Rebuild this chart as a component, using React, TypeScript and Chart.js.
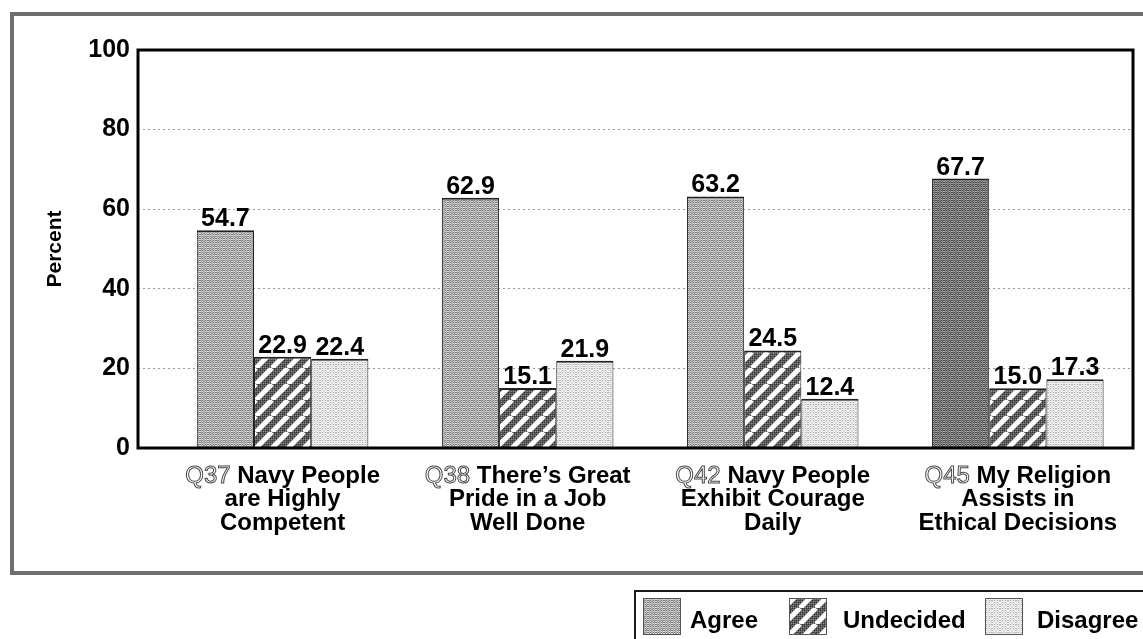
import React, { useEffect, useRef } from 'react';
import { Chart, registerables } from 'chart.js';

Chart.register(...registerables);

// ---- data ----
const questionIds = ['Q37', 'Q38', 'Q42', 'Q45'];
const questionLines = [
  ['Navy People', 'are Highly', 'Competent'],
  ['There\u2019s Great', 'Pride in a Job', 'Well Done'],
  ['Navy People', 'Exhibit Courage', 'Daily'],
  ['My Religion', 'Assists in', 'Ethical Decisions'],
];
const seriesNames = ['Agree', 'Undecided', 'Disagree'];
const agree = [54.7, 62.9, 63.2, 67.7];
const undecided = [22.9, 15.1, 24.5, 15.0];
const disagree = [22.4, 21.9, 12.4, 17.3];
const yTicks = [0, 20, 40, 60, 80, 100];

const FONT = '"Liberation Sans", Arial, Helvetica, sans-serif';

const BAYER = [
  [0, 8, 2, 10],
  [12, 4, 14, 6],
  [3, 11, 1, 9],
  [15, 7, 13, 5],
];

function speckle(ctx: CanvasRenderingContext2D, base: string, dark: string, light: string, lo: number, hi: number) {
  const c = document.createElement('canvas');
  c.width = 8;
  c.height = 8;
  const g = c.getContext('2d')!;
  g.fillStyle = base;
  g.fillRect(0, 0, 8, 8);
  for (let y = 0; y < 8; y++) {
    for (let x = 0; x < 8; x++) {
      const b = BAYER[y % 4][(x + (y >> 2) * 2 + (x >> 2)) % 4];
      if (b < lo) {
        g.fillStyle = dark;
        g.fillRect(x, y, 1, 1);
      } else if (b > hi) {
        g.fillStyle = light;
        g.fillRect(x, y, 1, 1);
      }
    }
  }
  return ctx.createPattern(c, 'repeat')!;
}

function hatch(ctx: CanvasRenderingContext2D) {
  const s = 16;
  const c = document.createElement('canvas');
  c.width = s;
  c.height = s;
  const g = c.getContext('2d')!;
  g.fillStyle = '#5c5c5c';
  g.fillRect(0, 0, s, s);
  for (let y = 0; y < s; y++) {
    for (let x = 0; x < s; x++) {
      const b = BAYER[y % 4][(x + y) % 4];
      if (b < 4) {
        g.fillStyle = '#333';
        g.fillRect(x, y, 1, 1);
      } else if (b > 12) {
        g.fillStyle = '#8c8c8c';
        g.fillRect(x, y, 1, 1);
      }
    }
  }
  g.strokeStyle = '#ffffff';
  g.lineWidth = 5;
  for (const k of [-s, 0, s]) {
    g.beginPath();
    g.moveTo(k, s);
    g.lineTo(k + s, 0);
    g.stroke();
  }
  return ctx.createPattern(c, 'repeat')!;
}

export default function App() {
  const ref = useRef<HTMLCanvasElement>(null);

  useEffect(() => {
    const canvas = ref.current!;
    const ctx = canvas.getContext('2d')!;
    const pAgree = speckle(ctx, '#b2b2b2', '#7e7e7e', '#dadada', 5, 11);
    const pAgreeDark = speckle(ctx, '#7a7a7a', '#4c4c4c', '#a4a4a4', 5, 11);
    const pUndecided = hatch(ctx);
    const pDisagree = speckle(ctx, '#e4e4e4', '#b4b4b4', '#f6f6f6', 3, 12);
    const agreeColors = agree.map((_, i) => (i === agree.length - 1 ? pAgreeDark : pAgree));
    const legendFills = [pAgree, pUndecided, pDisagree];

    const seriesValues = [agree, undecided, disagree];

    const decor = {
      id: 'decor',
      afterDatasetsDraw(chart: any) {
        const c = chart.ctx as CanvasRenderingContext2D;
        const { left, right, top, bottom } = chart.chartArea;
        const xs = chart.scales.x;
        c.save();

        // plot frame
        c.strokeStyle = '#000';
        c.lineWidth = 3;
        c.strokeRect(left, top, right - left, bottom - top);

        // value labels
        c.fillStyle = '#000';
        c.font = `bold 25px ${FONT}`;
        c.textAlign = 'center';
        c.textBaseline = 'alphabetic';
        chart.data.datasets.forEach((ds: any, di: number) => {
          const meta = chart.getDatasetMeta(di);
          meta.data.forEach((el: any, i: number) => {
            const v = seriesValues[di][i];
            c.fillText(v.toFixed(1), el.x, el.y - 4);
          });
        });

        // category labels
        questionIds.forEach((qid, i) => {
          const cx = xs.getPixelForValue(i);
          const lines = questionLines[i];
          const y0 = bottom + 28;
          const lh = 23.5;
          c.font = `24px ${FONT}`;
          const idTxt = qid + ' ';
          const wId = c.measureText(idTxt).width;
          c.font = `bold 24px ${FONT}`;
          const wRest = c.measureText(lines[0]).width;
          const x0 = cx - (wId + wRest) / 2;
          c.textAlign = 'left';
          c.textBaseline = 'middle';
          c.font = `24px ${FONT}`;
          c.fillStyle = '#ffffff';
          c.fillText(qid, x0, y0);
          c.strokeStyle = '#4a4a4a';
          c.lineWidth = 1;
          c.strokeText(qid, x0, y0);
          c.font = `bold 24px ${FONT}`;
          c.fillStyle = '#000';
          c.fillText(lines[0], x0 + wId, y0);
          c.textAlign = 'center';
          for (let k = 1; k < lines.length; k++) {
            c.fillText(lines[k], cx, y0 + lh * k);
          }
        });

        // outer frame
        c.strokeStyle = '#6e6e6e';
        c.lineWidth = 4;
        c.strokeRect(12, 14, 1160, 559);

        // legend box
        c.strokeStyle = '#1a1a1a';
        c.lineWidth = 2;
        c.beginPath();
        c.moveTo(635, 660);
        c.lineTo(635, 591);
        c.lineTo(1160, 591);
        c.stroke();

        const sw = [643, 789, 985];
        const tx = [690, 843, 1037];
        seriesNames.forEach((name, i) => {
          c.fillStyle = legendFills[i];
          c.fillRect(sw[i], 598, 38, 37);
          c.strokeStyle = '#555';
          c.lineWidth = 1;
          c.strokeRect(sw[i] + 0.5, 598.5, 37, 36);
          c.fillStyle = '#000';
          c.font = `bold 24px ${FONT}`;
          c.textAlign = 'left';
          c.textBaseline = 'middle';
          c.fillText(name, tx[i], 621);
        });

        c.restore();
      },
    };

    const border = { top: 2, left: 1, right: 1, bottom: 0 };

    const chart = new Chart(canvas, {
      type: 'bar',
      data: {
        datasets: [
          {
            label: seriesNames[0],
            data: agree.map((v, i) => ({ x: i, y: v })),
            backgroundColor: agreeColors as any,
            borderColor: '#222',
            borderWidth: border,
          },
          {
            label: seriesNames[1],
            data: undecided.map((v, i) => ({ x: i, y: v })),
            backgroundColor: pUndecided as any,
            borderColor: '#222',
            borderWidth: border,
          },
          {
            label: seriesNames[2],
            data: disagree.map((v, i) => ({ x: i, y: v })),
            backgroundColor: pDisagree as any,
            borderColor: '#222',
            borderWidth: border,
          },
        ],
      },
      options: {
        responsive: false,
        animation: false,
        events: [],
        layout: { padding: { top: 50, right: 10, left: 0, bottom: 0 } },
        datasets: { bar: { categoryPercentage: 0.7, barPercentage: 1 } } as any,
        scales: {
          x: {
            type: 'linear',
            min: -0.59,
            max: 3.47,
            offset: false,
            grid: { display: false },
            border: { display: false },
            ticks: { display: false, stepSize: 1, includeBounds: false },
            afterFit: (s: any) => {
              s.height = 191;
            },
          },
          y: {
            min: yTicks[0],
            max: yTicks[yTicks.length - 1],
            afterBuildTicks: (s: any) => {
              s.ticks = yTicks.map((v) => ({ value: v }));
            },
            ticks: {
              stepSize: 20,
              color: '#000',
              padding: 8,
              font: { family: FONT, weight: 'bold', size: 25 },
            },
            grid: {
              drawTicks: false,
              lineWidth: 1,
              color: (c: any) =>
                c.tick && c.tick.value > 0 && c.tick.value < 100 ? '#9a9a9a' : 'rgba(0,0,0,0)',
            },
            border: { display: false, dash: [2, 3] },
            title: {
              display: true,
              text: 'Percent',
              color: '#000',
              font: { family: FONT, weight: 'bold', size: 21 },
              padding: { top: 43, bottom: 0 },
            },
            afterFit: (s: any) => {
              s.width = 138;
            },
          },
        },
        plugins: {
          legend: { display: false },
          tooltip: { enabled: false },
        },
      },
      plugins: [decor],
    } as any);

    return () => chart.destroy();
  }, []);

  return (
    <div style={{ position: 'fixed', left: 0, top: 0, width: 1143, height: 639, background: '#fff' }}>
      <canvas ref={ref} width={1143} height={639} style={{ display: 'block', width: 1143, height: 639 }} />
    </div>
  );
}
